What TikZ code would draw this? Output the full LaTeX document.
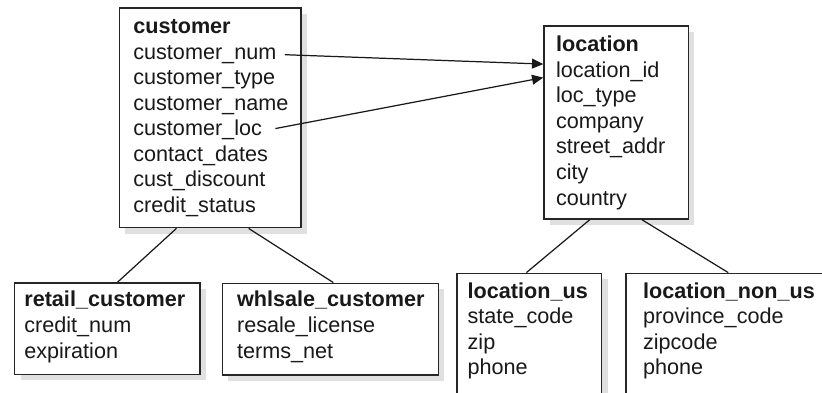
\documentclass[tikz,border=0pt]{standalone}
\usepackage{fontspec}
\setmainfont{Liberation Sans}
\usetikzlibrary{arrows.meta,calc,fit}

\begin{document}
\begin{tikzpicture}[scale=0.2]
\tikzstyle{every node}+=[inner sep=0pt, font=\fontsize{12.3}{14.5}\selectfont, text=black!90]
\tikzstyle{entity}=[draw=black!85, line width=0.8pt, fill=white, preaction={fill=black!12, transform canvas={xshift=3.4pt, yshift=-3.4pt}}]
\tikzstyle{row}=[anchor=base west]
\tikzstyle{link}=[black!90, line width=0.7pt]
\tikzstyle{ref}=[link, -{Triangle[length=6.4pt,width=5.6pt]}]
\useasboundingbox (0,0) rectangle (82.2,-39.3);
\clip (0,0) rectangle (82.2,-39.3);
\node [entity, fit={(11.93,-0.78) (30.1,-22.77)}] (cust) {};
\node [entity, fit={(54.4,-2.6) (68.83,-21.9)}] (loc) {};
\node [entity, fit={(1.47,-28.3) (20,-37.45)}] (retail) {};
\node [entity, fit={(22.23,-28.33) (43.83,-37.5)}] (whl) {};
\node [entity, fit={(45.7,-27.33) (60.17,-41)}] (locus) {};
\node [entity, fit={(62.6,-27.33) (84.6,-41)}] (locnon) {};
\draw (13.3,-3.35) node [row] (custhd) {\textbf{customer}};
\draw (13.3,-5.905) node [row] (cnum) {customer\_num};
\draw (13.3,-8.46) node [row] (ctype) {customer\_type};
\draw (13.3,-11.015) node [row] (cname) {customer\_name};
\draw (13.3,-13.57) node [row] (cloc) {customer\_loc};
\draw (13.3,-16.125) node [row] (cdates) {contact\_dates};
\draw (13.3,-18.68) node [row] (cdisc) {cust\_discount};
\draw (13.3,-21.235) node [row] (cstat) {credit\_status};
\draw (55.57,-5.17) node [row] (lochd) {\textbf{location}};
\draw (55.57,-7.725) node [row] (locid) {location\_id};
\draw (55.57,-10.28) node [row] (ltype) {loc\_type};
\draw (55.57,-12.835) node [row] (lcomp) {company};
\draw (55.57,-15.39) node [row] (lstreet) {street\_addr};
\draw (55.57,-17.945) node [row] (lcity) {city};
\draw (55.57,-20.5) node [row] (lctry) {country};
\draw (2.4,-30.6) node [row] (rethd) {\textbf{retail\_customer}};
\draw (2.4,-33.2) node [row] (rcnum) {credit\_num};
\draw (2.4,-35.8) node [row] (rexp) {expiration};
\draw (23.67,-30.6) node [row] (whlhd) {\textbf{whlsale\_customer}};
\draw (23.67,-33.2) node [row] (wlic) {resale\_license};
\draw (23.67,-35.8) node [row] (wterms) {terms\_net};
\draw (46.73,-29.8) node [row] (ushd) {\textbf{location\_us}};
\draw (46.73,-32.35) node [row] (ustate) {state\_code};
\draw (46.73,-34.9) node [row] (uszip) {zip};
\draw (46.73,-37.45) node [row] (usphone) {phone};
\draw (64.27,-29.8) node [row] (nonhd) {\textbf{location\_non\_us}};
\draw (64.27,-32.35) node [row] (nprov) {province\_code};
\draw (64.27,-34.9) node [row] (nzip) {zipcode};
\draw (64.27,-37.45) node [row] (nphone) {phone};
\draw [ref, shorten <=4.7pt] (cnum.mid east) -- ($(loc.north west)!0.1995!(loc.south west)$);
\draw [ref, shorten <=7.6pt] (cloc.mid east) -- ($(loc.north west)!0.269!(loc.south west)$);
\draw [link] ($(cust.south west)!0.316!(cust.south east)$) -- ($(retail.north west)!0.554!(retail.north east)$);
\draw [link] ($(cust.south west)!0.71!(cust.south east)$) -- ($(whl.north west)!0.514!(whl.north east)$);
\draw [link] ($(loc.south west)!0.319!(loc.south east)$) -- ($(locus.north west)!0.48!(locus.north east)$);
\draw [link] ($(loc.south west)!0.677!(loc.south east)$) -- ($(locnon.north west)!0.465!(locnon.north east)$);
\end{tikzpicture}
\end{document}
